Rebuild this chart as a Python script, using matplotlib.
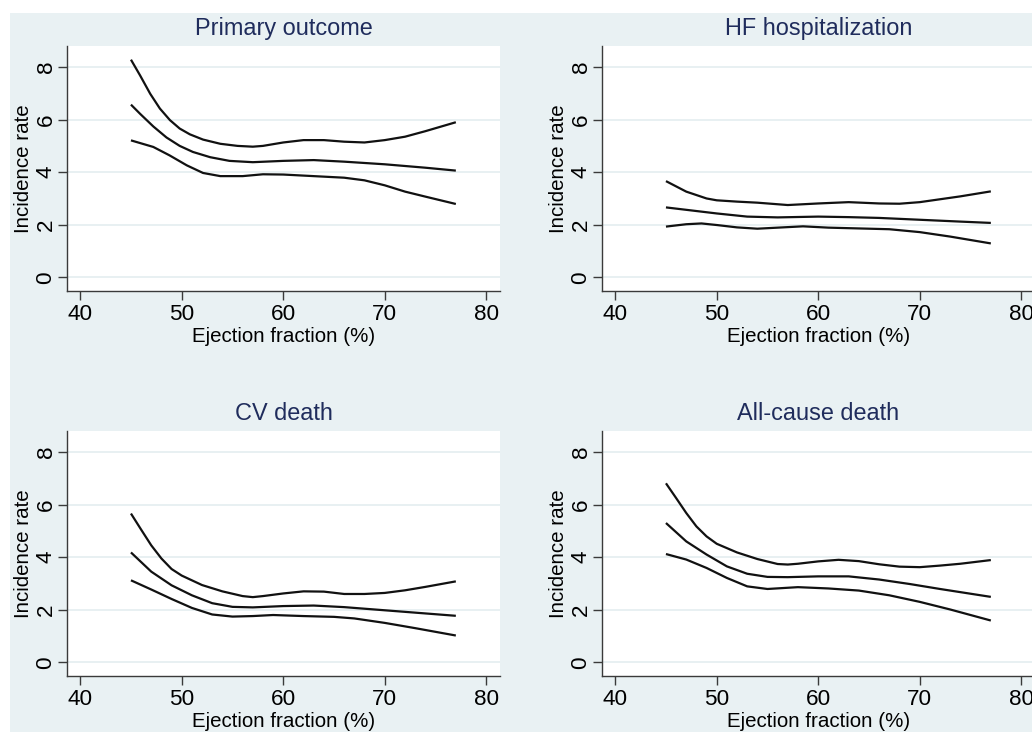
import matplotlib
matplotlib.use("Agg")
import matplotlib.pyplot as plt
from matplotlib.patches import Rectangle

plt.rcParams['font.family'] = ['Liberation Sans', 'DejaVu Sans']

titles = ["Primary outcome", "HF hospitalization", "CV death", "All-cause death"]
x_label = "Ejection fraction (%)"
y_label = "Incidence rate"
x_ticks = [40, 50, 60, 70, 80]
y_ticks = [0, 2, 4, 6, 8]

# Primary outcome
po_up_x = [45, 45.9, 46.9, 47.85, 48.84, 49.8, 50.8, 52.1, 53.8, 55.5, 57, 58, 60, 62, 64, 66, 68, 70, 72, 74, 77]
po_up_y = [8.28, 7.68, 6.98, 6.42, 5.98, 5.66, 5.44, 5.24, 5.08, 5.00, 4.97, 5.00, 5.13, 5.22, 5.22, 5.16, 5.13, 5.22, 5.35, 5.56, 5.90]
po_mid_x = [45, 45.9, 47.2, 48.5, 49.8, 51.1, 52.8, 54.7, 57, 60, 63, 66, 70, 74, 77]
po_mid_y = [6.57, 6.22, 5.74, 5.32, 5.00, 4.77, 4.57, 4.43, 4.38, 4.43, 4.46, 4.40, 4.30, 4.17, 4.06]
po_lo_x = [45, 47.2, 48.8, 50.5, 52.1, 53.8, 56, 58, 60, 63, 66, 68, 70, 72, 74, 77]
po_lo_y = [5.21, 4.96, 4.64, 4.26, 3.97, 3.85, 3.85, 3.92, 3.91, 3.85, 3.79, 3.69, 3.50, 3.26, 3.07, 2.79]

# HF hospitalization
hf_up_x = [45, 47, 49, 50, 52, 54, 57, 60, 63, 66, 68, 70, 72, 74, 77]
hf_up_y = [3.66, 3.26, 3.00, 2.93, 2.88, 2.84, 2.75, 2.81, 2.86, 2.81, 2.80, 2.86, 2.97, 3.08, 3.27]
hf_mid_x = [45, 50, 53, 56, 60, 63, 66, 70, 74, 77]
hf_mid_y = [2.66, 2.43, 2.31, 2.28, 2.31, 2.29, 2.26, 2.19, 2.12, 2.07]
hf_lo_x = [45, 47, 48.5, 50, 52, 54, 56, 58.5, 61, 64, 67, 70, 73, 77]
hf_lo_y = [1.93, 2.02, 2.05, 1.99, 1.90, 1.85, 1.89, 1.94, 1.89, 1.86, 1.83, 1.72, 1.55, 1.29]

# CV death
cv_up_x = [45, 46, 47, 48, 49, 50, 52, 54, 56, 57, 58, 60, 62, 64, 66, 68, 70, 72, 74, 77]
cv_up_y = [5.66, 5.05, 4.45, 3.95, 3.55, 3.30, 2.94, 2.70, 2.52, 2.48, 2.52, 2.62, 2.70, 2.69, 2.60, 2.60, 2.64, 2.74, 2.87, 3.08]
cv_mid_x = [45, 47, 49, 51, 53, 55, 57, 60, 63, 66, 70, 74, 77]
cv_mid_y = [4.18, 3.45, 2.93, 2.55, 2.25, 2.11, 2.09, 2.14, 2.16, 2.10, 1.98, 1.86, 1.77]
cv_lo_x = [45, 47, 49, 51, 53, 55, 57, 59, 62, 65, 67, 70, 73, 77]
cv_lo_y = [3.12, 2.77, 2.41, 2.07, 1.82, 1.74, 1.76, 1.80, 1.76, 1.73, 1.67, 1.50, 1.30, 1.02]

# All-cause death
ac_up_x = [45, 46, 47, 48, 49, 50, 52, 54, 56, 57, 58, 60, 62, 64, 66, 68, 70, 72, 74, 77]
ac_up_y = [6.81, 6.25, 5.68, 5.17, 4.79, 4.51, 4.18, 3.93, 3.74, 3.72, 3.75, 3.84, 3.90, 3.85, 3.73, 3.64, 3.62, 3.68, 3.75, 3.89]
ac_mid_x = [45, 47, 49, 51, 53, 55, 57, 60, 63, 66, 69, 72, 77]
ac_mid_y = [5.30, 4.60, 4.10, 3.65, 3.37, 3.25, 3.24, 3.27, 3.27, 3.15, 2.98, 2.79, 2.49]
ac_lo_x = [45, 47, 49, 51, 53, 55, 58, 61, 64, 67, 70, 73, 77]
ac_lo_y = [4.12, 3.91, 3.59, 3.21, 2.89, 2.79, 2.86, 2.81, 2.73, 2.55, 2.30, 2.01, 1.59]

panels = [
    [(po_up_x, po_up_y), (po_mid_x, po_mid_y), (po_lo_x, po_lo_y)],
    [(hf_up_x, hf_up_y), (hf_mid_x, hf_mid_y), (hf_lo_x, hf_lo_y)],
    [(cv_up_x, cv_up_y), (cv_mid_x, cv_mid_y), (cv_lo_x, cv_lo_y)],
    [(ac_up_x, ac_up_y), (ac_mid_x, ac_mid_y), (ac_lo_x, ac_lo_y)],
]

W, H = 1032, 732
fig = plt.figure(figsize=(W / 100, H / 100), dpi=100, facecolor="white")
bg = "#E9F1F3"
fig.patches.append(Rectangle((10 / W, 0), 1.0, (H - 13) / H, transform=fig.transFigure,
                             facecolor=bg, edgecolor="none", zorder=-10))

# pixel boxes: (left, top, right, bottom)
boxes = [(67, 46, 500, 291), (602, 46, 1035, 291), (67, 431, 500, 676), (602, 431, 1035, 676)]
title_color = "#1F2C5C"
axis_color = "#3A3A3A"

for (l, t, r, b), title, curves in zip(boxes, titles, panels):
    ax = fig.add_axes([l / W, (H - b) / H, (r - l) / W, (b - t) / H])
    ax.set_facecolor("white")
    for (xs, ys) in curves:
        ax.plot(xs, ys, color="#111111", lw=1.6, solid_capstyle="butt",
                solid_joinstyle="round", zorder=3)
    ax.set_xlim(38.7, 81.35)
    ax.set_ylim(-0.52, 8.8)
    ax.set_xticks(x_ticks)
    ax.set_yticks(y_ticks)
    ax.set_xticklabels([str(v) for v in x_ticks])
    ax.set_yticklabels([str(v) for v in y_ticks], rotation=90, va="center")
    ax.grid(axis="y", color="#E4EDF0", lw=1.2, zorder=0)
    ax.set_axisbelow(True)
    for s in ["top", "right"]:
        ax.spines[s].set_visible(False)
    for s in ["left", "bottom"]:
        ax.spines[s].set_color(axis_color)
        ax.spines[s].set_linewidth(1.0)
    ax.tick_params(axis="both", direction="out", length=6.5, width=1.0, color=axis_color,
                   labelsize=16.2, labelcolor="black")
    ax.tick_params(axis="x", pad=3)
    ax.tick_params(axis="y", pad=1)
    ax.set_xlabel(x_label, fontsize=14.8, labelpad=1)
    ax.set_ylabel(y_label, fontsize=14.8, labelpad=2)
    ax.set_title(title, fontsize=16.9, color=title_color, pad=8)

fig.savefig("out.png", dpi=100, facecolor=fig.get_facecolor())
